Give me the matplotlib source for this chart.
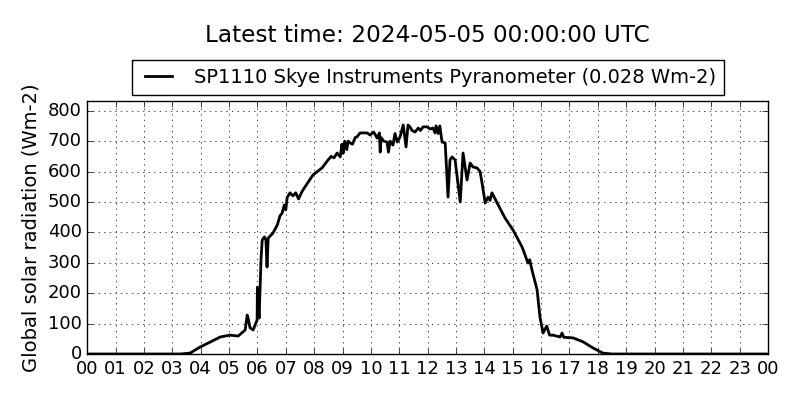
import numpy as np
import matplotlib
matplotlib.use("Agg")
from matplotlib import pyplot as plt

# Datos (hora UTC, radiacion Wm-2)
horas = [0.0, 1.0, 2.0, 3.0, 3.28, 3.63, 3.98, 4.33, 4.69, 5.04, 5.32, 5.57,
         5.64, 5.68, 5.74, 5.85, 5.99, 6.0, 6.06, 6.13, 6.17, 6.25, 6.3, 6.34,
         6.38, 6.55, 6.7, 6.8, 6.87, 6.95, 7.0, 7.05, 7.15, 7.25, 7.35, 7.45,
         7.55, 7.61, 7.96, 8.28, 8.49, 8.6, 8.7, 8.81, 8.92, 8.98, 9.02, 9.08,
         9.15, 9.2, 9.27, 9.35, 9.45, 9.51, 9.62, 9.87, 9.97, 10.1, 10.22,
         10.3, 10.33, 10.36, 10.45, 10.57, 10.62, 10.68, 10.78, 10.85, 10.93,
         11.03, 11.14, 11.24, 11.31, 11.38, 11.45, 11.56, 11.67, 11.75, 11.84,
         11.98, 12.09, 12.19, 12.26, 12.3, 12.37, 12.43, 12.51, 12.62, 12.72,
         12.79, 12.86, 12.97, 13.15, 13.25, 13.39, 13.5, 13.6, 13.74, 13.85,
         13.92, 14.03, 14.13, 14.2, 14.27, 14.45, 14.73, 15.01, 15.33, 15.54,
         15.6, 15.68, 15.86, 15.96, 16.07, 16.2, 16.3, 16.42, 16.67, 16.74,
         16.8, 17.13, 17.48, 17.83, 18.18, 18.5, 19.0, 24.0]
radiacion = [0, 0, 0, 0, 0, 3, 23, 39, 56, 62, 59, 79,
             128, 115, 86, 79, 112, 220, 118, 316, 375, 385, 375, 286,
             381, 398, 424, 455, 463, 490, 474, 515, 530, 520, 530, 510,
             530, 540, 589, 612, 638, 650, 645, 661, 648, 690, 660, 700,
             672, 700, 694, 690, 712, 714, 727, 727, 720, 730, 710,
             727, 664, 712, 700, 697, 664, 700, 687, 725, 697,
             714, 753, 681, 753, 747, 735, 730, 743, 735, 747,
             747, 740, 743, 727, 750, 725, 750, 697, 694, 516,
             638, 648, 638, 500, 661, 572, 628, 615, 612, 600,
             562, 497, 516, 505, 530, 497, 447, 408, 352, 299,
             310, 276, 211, 122, 69, 92, 62, 62, 56, 69,
             55, 53, 40, 20, 3, 0, 0, 0]

etiquetas_x = ["%02d" % (h % 24) for h in range(25)]

plt.style.use("classic")
fig = plt.figure(figsize=(8, 4), dpi=100)
ax = fig.add_axes([0.109, 0.115, 0.851, 0.6325])

ax.plot(horas, radiacion, color="k", lw=2,
        label="SP1110 Skye Instruments Pyranometer (0.028 Wm-2)")

ax.set_xlim(0, 24)
ax.set_ylim(0, 832)
ax.set_xticks(range(25))
ax.set_xticklabels(etiquetas_x, fontsize=13)
ax.set_yticks(range(0, 801, 100))
ax.tick_params(axis="y", labelsize=13)
ax.grid(True)
ax.set_ylabel("Global solar radiation (Wm-2)", fontsize=14)

ax.legend(loc="lower center", bbox_to_anchor=(0.5, 1.025), fontsize=14,
          handlelength=2, borderaxespad=0, frameon=True)
ax.set_title("Latest time: 2024-05-05 00:00:00 UTC", fontsize=16.7, y=1.205)

fig.savefig("out.png", dpi=100)
